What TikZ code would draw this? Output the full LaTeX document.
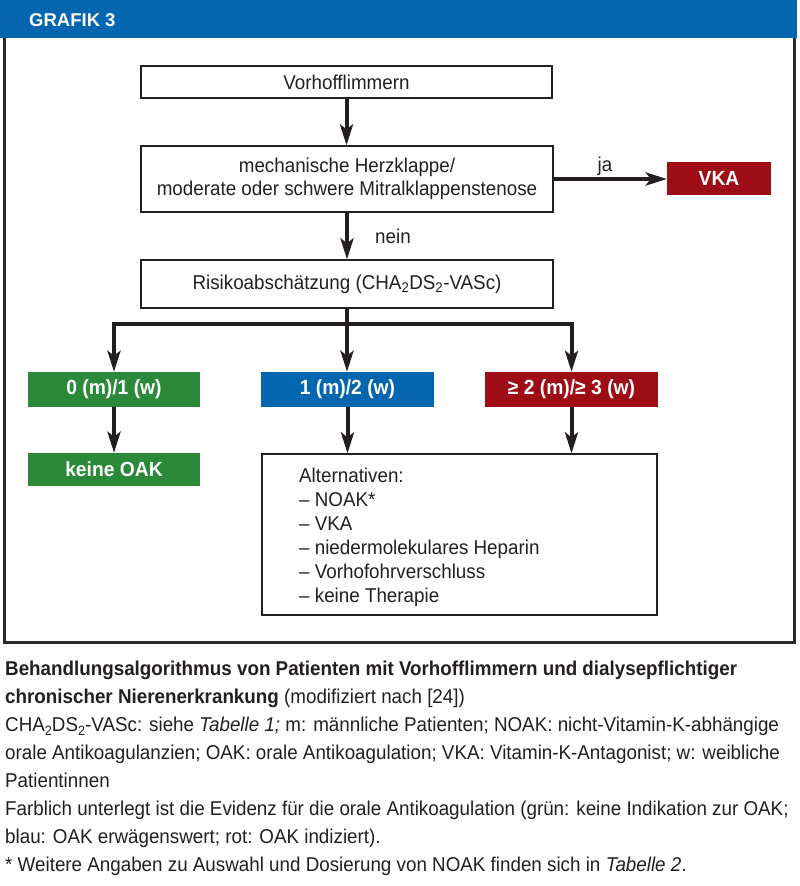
\documentclass[tikz,border=0pt]{standalone}
\usepackage{fontspec}
\setmainfont[FakeStretch=0.94]{Liberation Sans}
\newfontfamily\titlefont{Liberation Sans}
\usetikzlibrary{arrows.meta}
\definecolor{hdrblue}{RGB}{4,102,174}
\definecolor{okgreen}{RGB}{42,138,58}
\definecolor{oakred}{RGB}{158,12,22}
\definecolor{ink}{RGB}{35,31,32}
\definecolor{framecol}{RGB}{45,40,42}
\newcommand\lowsub[1]{\raisebox{-4.5pt}{\fontsize{13.5}{13.5}\selectfont #1}}
\tikzset{
  box/.style={draw=ink, line width=1.2pt, fill=white, inner sep=0pt, font=\fontsize{20}{23}\selectfont, text=ink, align=center},
  cbox/.style={inner sep=0pt, font=\bfseries\fontsize{20.5}{22}\selectfont, text=white},
  arr/.style={draw=ink, line width=4pt, line join=miter, -{Stealth[length=21pt,width=13pt,inset=5pt]}},
  trunk/.style={draw=ink, line width=4pt, line join=miter},
  lbl/.style={font=\fontsize{20}{23}\selectfont, text=ink, inner sep=0pt},
  altline/.style={font=\fontsize{20}{23}\selectfont, text=ink, inner sep=0pt, anchor=base west},
  captionline/.style={font=\fontsize{20}{23}\selectfont, text=ink, inner sep=0pt, anchor=base west}
}
\begin{document}
\begin{tikzpicture}[x=1pt,y=-1pt]
\fill[white] (0,0) rectangle (800,886);
\useasboundingbox (0,0) rectangle (800,886);
% header and frame
\fill[hdrblue] (0,0) rectangle (797,37.5);
\node[anchor=base west, font=\titlefont\bfseries\fontsize{18.5}{22}\selectfont, text=white, inner sep=0pt] (title) at (29,26.7) {GRAFIK 3};
\draw[framecol, line width=3pt, line join=miter] (4.5,37.5) -- (4.5,642) -- (794.5,642) -- (794.5,37.5);
% boxes
\node[box, minimum width=411pt, minimum height=32pt] (vf) at (346.5,82) {Vorhofflimmern};
\node[box, minimum width=412pt, minimum height=66pt] (mech) at (347,179) {mechanische Herzklappe/\\moderate oder schwere Mitralklappenstenose};
\node[box, minimum width=412pt, minimum height=48pt] (risk) at (347,284) {Risikoabschätzung (CHA\textsubscript{2}DS\textsubscript{2}-VASc)};
\node[cbox, fill=oakred, minimum width=104pt, minimum height=33pt] (vka) at (719,178.5) {VKA};
\node[cbox, fill=okgreen, minimum width=172pt, minimum height=35pt] (green) at (114,389.5) {0 (m)/1 (w)};
\node[cbox, fill=hdrblue, minimum width=173pt, minimum height=35pt] (blue) at (347.5,389.5) {1 (m)/2 (w)};
\node[cbox, fill=oakred, minimum width=173pt, minimum height=35pt] (red) at (571.5,389.5) {≥ 2 (m)/≥ 3 (w)};
\node[cbox, fill=okgreen, minimum width=172pt, minimum height=33pt] (keine) at (114,469.5) {keine OAK};
\node[box, minimum width=395pt, minimum height=161pt] (alt) at (459.5,534.5) {};
\node[altline] (a1) at (299,482) {Alternativen:};
\node[altline] (a2) at (299,506) {– NOAK*};
\node[altline] (a3) at (299,530) {– VKA};
\node[altline] (a4) at (299,554) {– niedermolekulares Heparin};
\node[altline] (a5) at (299,578) {– Vorhofohrverschluss};
\node[altline] (a6) at (299,602) {– keine Therapie};
% labels
\node[lbl, anchor=base] (ja) at (605,171) {ja};
\node[lbl, anchor=base west] (nein) at (375,243) {nein};
% connectors
\draw[arr] (vf.south) -- (vf.south |- mech.north);
\draw[arr] (mech.south) -- (mech.south |- risk.north);
\draw[arr] (mech.east) -- (mech.east -| vka.west);
\coordinate (br) at (347,324);
\draw[trunk] (risk.south) -- (br);
\draw[arr] (br) -| (green.north);
\draw[arr] (br) -| (red.north);
\draw[arr] (br) -- (br |- blue.north);
\draw[arr] (green.south) -- (green.south |- keine.north);
\draw[arr] (blue.south) -- (blue.south |- alt.north);
\draw[arr] (red.south) -- (red.south |- alt.north);
% caption
\node[captionline] (c1) at (5,675) {\bfseries Behandlungsalgorithmus von Patienten mit Vorhofflimmern und dialysepflichtiger};
\node[captionline] (c2) at (5,703) {\bfseries chronischer Nierenerkrankung \mdseries(modifiziert nach [24])};
\node[captionline] (c3) at (5,731) {CHA\lowsub{2}DS\lowsub{2}-VASc: siehe \textit{Tabelle 1;} m: männliche Patienten; NOAK: nicht-Vitamin-K-abhängige};
\node[captionline] (c4) at (5,759) {orale Antikoagulanzien; OAK: orale Antikoagulation; VKA: Vitamin-K-Antagonist; w: weibliche};
\node[captionline] (c5) at (5,787) {Patientinnen};
\node[captionline] (c6) at (5,815) {Farblich unterlegt ist die Evidenz für die orale Antikoagulation (grün: keine Indikation zur OAK;};
\node[captionline] (c7) at (5,843) {blau: OAK erwägenswert; rot: OAK indiziert).};
\node[captionline] (c8) at (5,871) {* Weitere Angaben zu Auswahl und Dosierung von NOAK finden sich in \textit{Tabelle 2}.};
\end{tikzpicture}
\end{document}
